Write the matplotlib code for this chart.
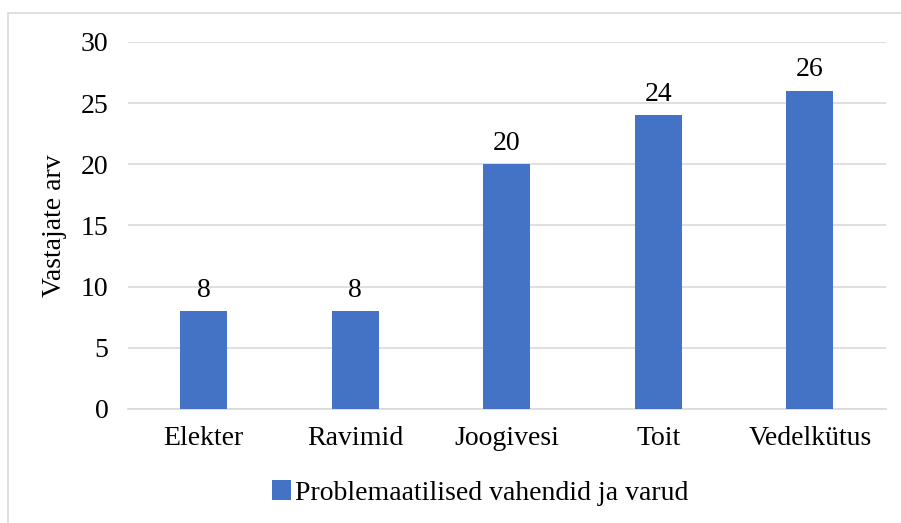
import matplotlib.pyplot as plt
from matplotlib.patches import Rectangle

categories = ["Elekter", "Ravimid", "Joogivesi", "Toit", "Vedelkütus"]
values = [8, 8, 20, 24, 26]
series_name = "Problemaatilised vahendid ja varud"
y_label = "Vastajate arv"

plt.rcParams['font.family'] = ['Liberation Serif', 'DejaVu Serif']
fs = 20

fig = plt.figure(figsize=(9.01, 5.23), dpi=100)
ax = fig.add_axes([0.142, 0.218, 0.841, 0.702])

x = list(range(len(categories)))
ax.bar(x, values, width=0.31, color='#4472C4', label=series_name, zorder=3)

for xi, v in zip(x, values):
    ax.annotate(str(v), (xi, v), xytext=(0, 6), textcoords='offset points',
                ha='center', va='bottom', fontsize=fs)

ax.set_xlim(-0.5, len(categories) - 0.5)
ax.set_ylim(0, 30)
ax.set_yticks(range(0, 31, 5))
ax.set_xticks(x)
ax.set_xticklabels(categories)
ax.tick_params(axis='both', length=0, labelsize=fs)
ax.tick_params(axis='y', pad=14)
ax.tick_params(axis='x', pad=12)
ax.grid(axis='y', color='#D9D9D9', linewidth=1.2, zorder=0)
for s in ['top', 'right', 'left']:
    ax.spines[s].set_visible(False)
ax.spines['bottom'].set_color('#D9D9D9')
ax.spines['bottom'].set_linewidth(1.2)
ax.set_ylabel(y_label, fontsize=fs, labelpad=10)

fig.legend(loc='center', bbox_to_anchor=(0.533, 0.057), frameon=False,
           fontsize=fs, handlelength=0.7, handleheight=0.7, handletextpad=0.15)

# chart frame (clipped on right and bottom like the original)
fig.patches.append(Rectangle((8 / 901, -0.1), 1.1, 1 - 13 / 523 + 0.1,
                             transform=fig.transFigure, fill=False,
                             edgecolor='#D9D9D9', linewidth=1.2))

fig.savefig('out.png', dpi=100)
